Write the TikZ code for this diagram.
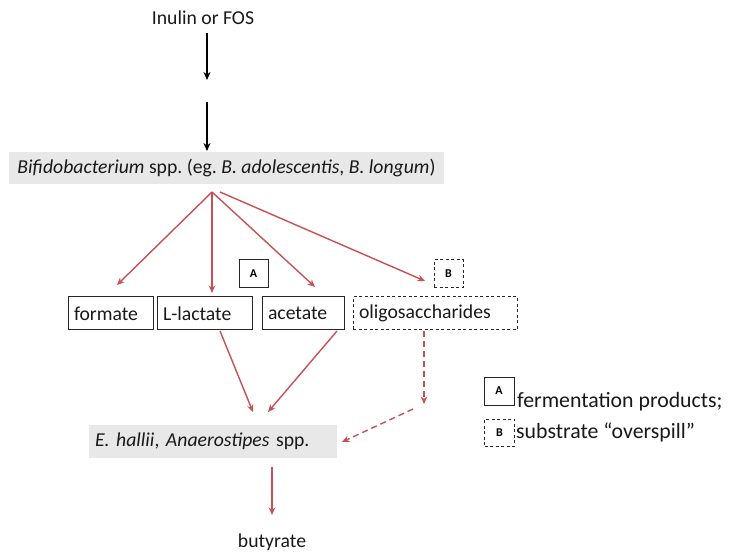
\documentclass[tikz,border=0pt]{standalone}
\usepackage{fontspec}
\setmainfont{Carlito}
\usetikzlibrary{arrows.meta}
\definecolor{arrred}{RGB}{200,80,85}
\definecolor{boxgray}{RGB}{232,232,232}
\definecolor{txt}{RGB}{25,25,25}
\frenchspacing
\tikzset{
  lbl/.style={font=\fontsize{19.7}{23}\selectfont, inner sep=0pt, text=txt},
  graybox/.style={fill=boxgray, minimum height=32pt, inner sep=0pt, text=txt, font=\fontsize{19.7}{23}\selectfont},
  prodbox/.style={draw=black!85, line width=1pt, minimum height=33pt, inner xsep=6pt, inner ysep=0pt, align=left, text=txt, font=\fontsize{19.7}{23}\selectfont},
  dashbox/.style={prodbox, dash pattern=on 3pt off 2.5pt},
  tag/.style={draw=black!85, line width=1pt, minimum width=29pt, minimum height=28pt, inner sep=0pt, font=\bfseries\fontsize{12}{14}\selectfont},
  dtag/.style={tag, dash pattern=on 3pt off 2.5pt},
  blk/.style={-{Stealth[length=8pt,width=7pt]}, line width=1.6pt, black},
  rarr/.style={-{Stealth[length=7.5pt,width=6.5pt]}, line width=1.4pt, arrred},
  darr/.style={rarr, dash pattern=on 6pt off 4pt},
}
\begin{document}
\begin{tikzpicture}[x=1pt,y=-1pt]
\useasboundingbox (0,0) rectangle (729,556);
\node[lbl] (inulin) at (203,18) {Inulin or FOS};
\coordinate (gapA) at (207,80);
\coordinate (gapB) at (207,102);
\node[graybox, minimum width=435pt] (bifido) at (226.5,168) {\textit{Bifidobacterium} spp. (eg. \textit{B. adolescentis}, \textit{B. longum})};
\draw[blk] (207,33) -- (gapA);
\draw[blk] (gapB) -- (207,151);

\coordinate (org) at (212,192);
\coordinate (orgB) at (220,192);

\node[prodbox, text width=73pt] (formate) at (110.5,313.5) {formate};
\node[prodbox, text width=83pt] (lact) at (204.5,313.5) {L-lactate};
\node[prodbox, text width=70pt] (acet) at (303,313.5) {acetate};
\node[dashbox, text width=152pt] (oligo) at (435,313.5) {oligosaccharides};
\node[tag] (tA) at (253.5,274) {A};
\node[dtag] (tB) at (448.5,274) {B};

\coordinate (eF) at (117,285);
\coordinate (eL) at (212,293);
\coordinate (eA) at (315,287);
\coordinate (eB) at (425,281);
\draw[rarr] (org) -- (eF);
\draw[rarr] (org) -- (eL);
\draw[rarr] (org) -- (eA);
\draw[rarr] (orgB) -- (eB);

\node[graybox, minimum width=248pt, minimum height=33pt, text width=236pt, align=left] (hallii) at (213,441.5) {\textit{E. hallii}, \textit{Anaerostipes} spp.};

\coordinate (lactS) at (220,331);
\coordinate (acetS) at (337,331);
\coordinate (h1) at (253,412);
\coordinate (h2) at (268,412);
\draw[rarr] (lactS) -- (h1);
\draw[rarr] (acetS) -- (h2);
\coordinate (oS) at (424,331);
\coordinate (oE) at (424,404);
\draw[darr] (oS) -- (oE);
\coordinate (dS) at (413,409);
\coordinate (dE) at (342,442);
\draw[darr] (dS) -- (dE);

\node[lbl] (but) at (272,542) {butyrate};
\coordinate (hB) at (272,467);
\coordinate (hE) at (272,515);
\draw[rarr] (hB) -- (hE);

\node[tag, minimum width=30pt] (lA) at (499,391) {A};
\node[dtag, minimum width=30pt, minimum height=27pt] (lB) at (499.5,432.5) {B};
\node[lbl, font=\fontsize{21.8}{25}\selectfont, anchor=west] (lAt) at (517,402) {fermentation products;};
\node[lbl, font=\fontsize{21.8}{25}\selectfont, anchor=west] (lBt) at (516,432) {substrate “overspill”};
\end{tikzpicture}
\end{document}
